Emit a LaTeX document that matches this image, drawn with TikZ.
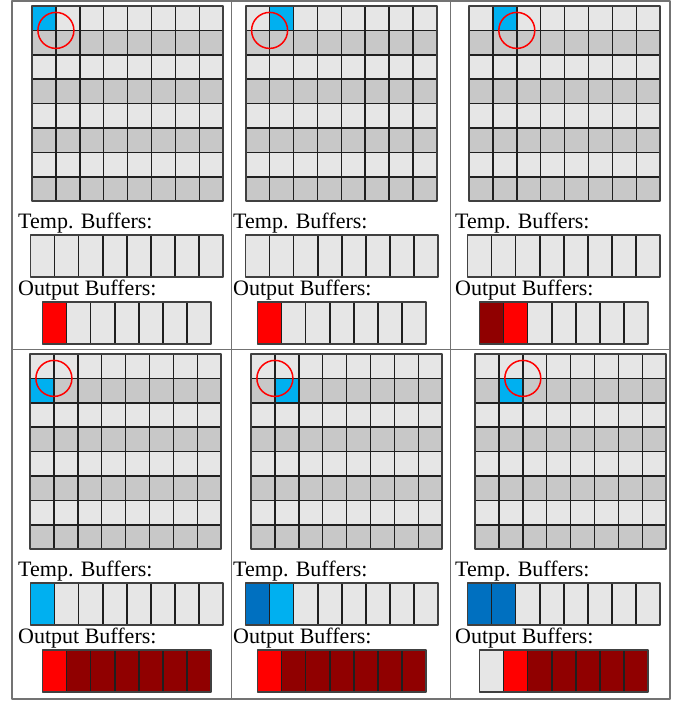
\documentclass[tikz,border=0pt]{standalone}
\usepackage{fontspec}
\setmainfont{Liberation Serif}

\definecolor{cellgray}{HTML}{E6E6E6}
\definecolor{rowgray}{HTML}{C8C8C8}
\definecolor{lblue}{HTML}{00B0F0}
\definecolor{dblue}{HTML}{0070C0}
\definecolor{dred}{RGB}{144,0,0}

\tikzset{
    cell/.style={draw=black!88,line width=1.5pt},
    rim/.style={draw=black!75,line width=1.7pt},
    lbl/.style={anchor=base west,inner sep=0pt,font=\fontsize{22}{26}\selectfont},
    ring/.style={draw=red,line width=1.5pt},
    frame/.style={draw=black!55,line width=1.5pt}
}

% colored cells, used inside \bufpanel
\newcommand\gcell[3]{\fill[#3] (\gx+#1*23.9,6+#2*24.4) rectangle ++(23.9,24.4);}
\newcommand\tcell[2]{\fill[#2] (12.5+#1*24.1,235) rectangle ++(24.1,42);}
\newcommand\ocell[2]{\fill[#2] (24.5+#1*24.1,302) rectangle ++(24.1,42);}

% #1 id, #2/#3 shift, #4 grid offset, #5 ring column, #6 fills
\newcommand\bufpanel[6]{%
    \begin{scope}[shift={(#2,#3)}]
        \def\gx{#4}
        \foreach \r in {0,2,4,6}
            \fill[cellgray] (\gx,6+\r*24.4) rectangle ++(191.2,24.4);
        \foreach \r in {1,3,5,7}
            \fill[rowgray] (\gx,6+\r*24.4) rectangle ++(191.2,24.4);
        \fill[cellgray] (12.5,235) rectangle ++(192.8,42);
        \fill[cellgray] (24.5,302) rectangle ++(168.7,42);
        #6
        \foreach \i in {1,...,7} {
            \draw[cell] (\gx+\i*23.9,6) -- ++(0,195.2);
            \draw[cell] (\gx,6+\i*24.4) -- ++(191.2,0);
            \draw[cell] (12.5+\i*24.1,235) -- ++(0,42);
        }
        \foreach \i in {1,...,6}
            \draw[cell] (24.5+\i*24.1,302) -- ++(0,42);
        \draw[rim] (\gx,6) rectangle ++(191.2,195.2);
        \draw[rim] (12.5,235) rectangle ++(192.8,42);
        \draw[rim] (24.5,302) rectangle ++(168.7,42);
        \draw[ring] (\gx+#5*23.9,6+24.4) circle[radius=18pt];
        \node[lbl] (tmp#1) at (0,228) {Temp. Buffers:};
        \node[lbl] (out#1) at (0,295) {Output Buffers:};
    \end{scope}
}

\begin{document}
\begin{tikzpicture}[x=1pt,y=-1pt,line join=round]
    \useasboundingbox (0,0) rectangle (681,701);
    % table
    \draw[frame] (12,1) rectangle (670,699);
    \draw[frame] (231.5,1) -- (231.5,699) (450.5,1) -- (450.5,699);
    \draw[frame] (12,349.5) -- (670,349.5);

    % first row
    \bufpanel{a}{18}{0}{14}{1}{\gcell{0}{0}{lblue}\ocell{0}{red}}
    \bufpanel{b}{233}{0}{12.7}{1}{\gcell{1}{0}{lblue}\ocell{0}{red}}
    \bufpanel{c}{455}{0}{14}{2}{\gcell{1}{0}{lblue}\ocell{0}{dred}\ocell{1}{red}}

    % second row
    \bufpanel{d}{18}{348}{12}{1}{\gcell{0}{1}{lblue}\tcell{0}{lblue}
        \ocell{0}{red}\foreach \k in {1,...,6}{\ocell{\k}{dred}}}
    \bufpanel{e}{233}{348}{18}{1}{\gcell{1}{1}{lblue}\tcell{0}{dblue}\tcell{1}{lblue}
        \ocell{0}{red}\foreach \k in {1,...,6}{\ocell{\k}{dred}}}
    \bufpanel{f}{455}{348}{20}{2}{\gcell{1}{1}{lblue}\tcell{0}{dblue}\tcell{1}{dblue}
        \ocell{1}{red}\foreach \k in {2,...,6}{\ocell{\k}{dred}}}
\end{tikzpicture}
\end{document}
